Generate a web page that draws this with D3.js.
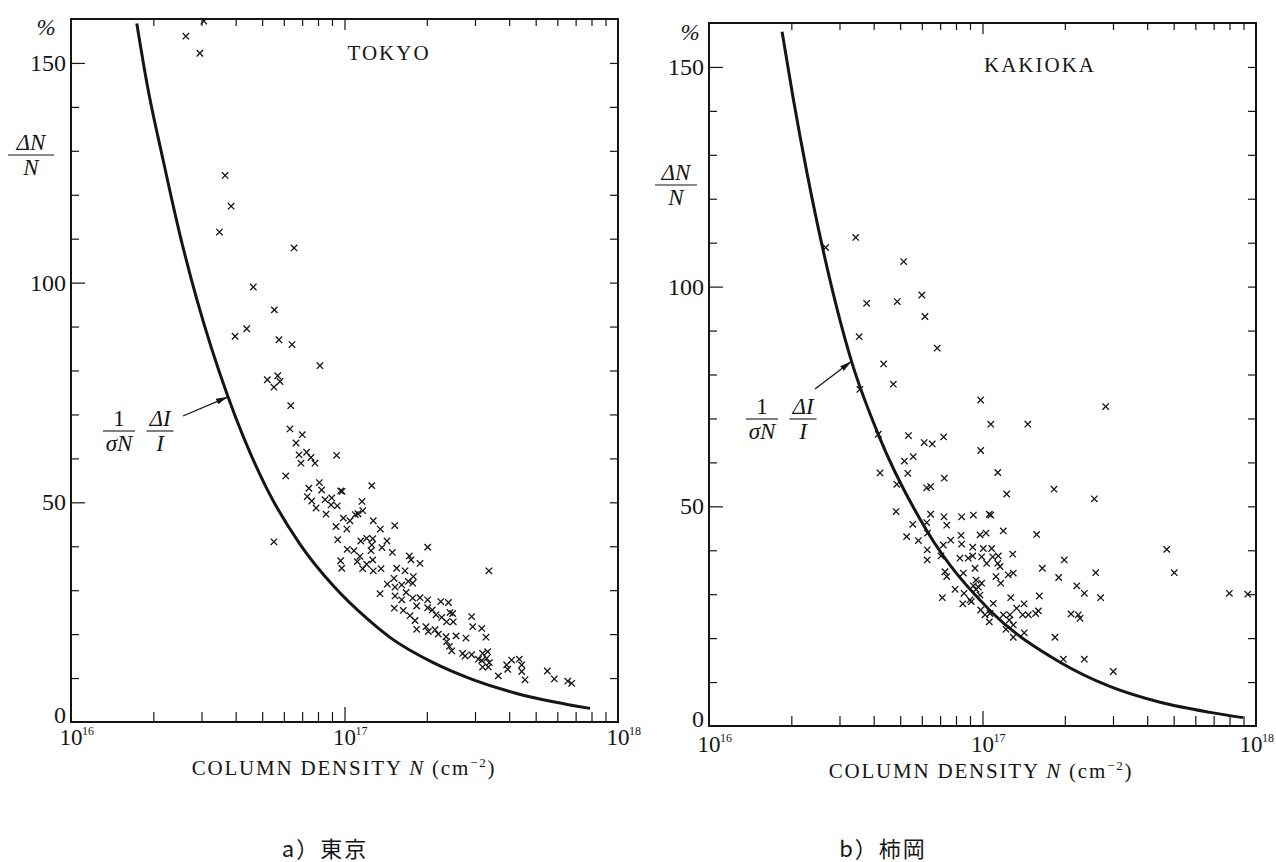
<!DOCTYPE html>
<html>
<head>
<meta charset="utf-8">
<script src="https://cdn.jsdelivr.net/npm/d3@7"></script>
<style>
body { margin: 0; background: #fff; }
</style>
</head>
<body>
<div id="chart"></div>
<script>
// scatter points: [column density N (cm^-2), dN/N (%)]
var tokyoPoints = [
  [2.63e16,156.1],[2.96e16,152.2],[3.06e16,159.5],[3.66e16,124.4],[3.85e16,117.4],[3.49e16,111.5],
  [6.54e16,107.9],[4.64e16,99.0],[5.54e16,93.8],[3.98e16,87.8],[4.39e16,89.5],[5.76e16,87.0],
  [6.43e16,85.9],[8.13e16,81.1],[5.22e16,77.9],[5.52e16,76.2],[5.70e16,78.8],[5.81e16,77.5],
  [6.36e16,72.0],[6.32e16,66.7],[7.01e16,65.4],[6.65e16,63.5],[6.82e16,60.8],[7.27e16,61.4],
  [7.54e16,60.2],[7.80e16,58.9],[6.93e16,58.9],[6.10e16,56.0],[7.41e16,53.2],[7.31e16,51.3],
  [7.59e16,50.3],[7.87e16,48.7],[8.09e16,54.5],[8.25e16,52.8],[8.49e16,50.6],[8.56e16,47.3],
  [5.52e16,41.0],[9.36e16,60.7],[9.68e16,52.6],[9.80e16,52.5],[8.98e16,51.0],[8.93e16,49.4],
  [9.41e16,49.2],[9.31e16,44.5],[9.44e16,41.5],[1.02e17,43.9],[9.90e16,46.4],[1.047e17,45.8],
  [1.095e17,47.2],[1.12e17,47.4],[1.159e17,50.2],[1.166e17,48.1],[1.258e17,53.8],[1.274e17,45.8],
  [1.352e17,43.9],[1.526e17,44.7],[1.023e17,39.3],[1.083e17,39.0],[9.68e16,36.7],[9.77e16,35.0],
  [1.147e17,41.2],[1.205e17,41.8],[1.268e17,41.7],[1.258e17,40.3],[1.25e17,39.0],[1.139e17,37.7],
  [1.114e17,36.5],[1.205e17,35.9],[1.268e17,36.9],[1.274e17,34.4],[1.165e17,34.9],[1.360e17,34.9],
  [1.371e17,39.7],[1.430e17,41.2],[1.496e17,38.6],[1.726e17,37.8],[1.750e17,36.9],[1.888e17,36.1],
  [2.014e17,39.8],[1.552e17,35.0],[1.664e17,34.4],[1.785e17,33.1],[1.517e17,32.7],[1.349e17,29.2],
  [1.434e17,31.4],[1.530e17,30.7],[1.619e17,31.2],[1.711e17,32.0],[1.776e17,31.6],[1.530e17,28.7],
  [1.619e17,27.8],[1.679e17,29.5],[1.776e17,28.2],[1.888e17,28.3],[1.836e17,26.4],[2.014e17,27.8],
  [2.014e17,26.0],[2.094e17,25.5],[2.249e17,27.4],[2.399e17,27.2],[1.521e17,25.9],[1.641e17,25.4],
  [1.736e17,24.2],[1.811e17,23.1],[1.836e17,21.1],[2.161e17,24.4],[2.266e17,23.8],[2.363e17,22.8],
  [2.499e17,22.8],[2.43e17,24.9],[2.486e17,24.7],[1.986e17,21.7],[2.026e17,20.6],[2.143e17,21.0],
  [2.203e17,20.0],[2.350e17,19.4],[2.558e17,19.6],[2.780e17,19.1],[2.363e17,18.3],[2.417e17,17.2],
  [2.466e17,16.2],[2.704e17,15.6],[2.758e17,15.0],[2.917e17,24.0],[2.943e17,21.7],[3.175e17,21.3],
  [3.291e17,19.3],[3.175e17,14.0],[2.917e17,15.3],[3.086e17,14.3],[3.199e17,15.6],[3.338e17,16.0],
  [3.31e17,14.5],[3.383e17,13.5],[3.355e17,12.5],[3.199e17,12.5],[3.373e17,34.4],[3.651e17,10.5],
  [3.917e17,13.0],[3.951e17,12.0],[4.083e17,14.1],[4.355e17,14.3],[4.446e17,13.0],[4.446e17,11.5],
  [4.571e17,9.6],[5.515e17,11.6],[5.85e17,9.8],[6.55e17,9.3],[6.77e17,8.8]
];

var kakiokaPoints = [
  [2.67e16,108.9],[3.44e16,111.2],[5.15e16,105.7],[6.00e16,98.1],[3.77e16,96.2],[4.88e16,96.6],
  [6.16e16,93.2],[3.54e16,88.6],[6.83e16,86.0],[4.35e16,82.4],[4.72e16,77.8],[3.56e16,76.6],
  [9.85e16,74.2],[4.16e16,66.4],[5.36e16,66.1],[6.12e16,64.5],[6.55e16,64.2],[7.21e16,65.8],
  [9.85e16,62.7],[5.18e16,60.3],[5.58e16,61.3],[4.22e16,57.6],[5.33e16,57.5],[6.25e16,54.2],
  [6.46e16,54.5],[7.25e16,56.4],[4.86e16,55.0],[4.83e16,48.8],[5.56e16,45.9],[6.46e16,48.2],
  [7.23e16,47.6],[7.40e16,45.7],[8.39e16,47.6],[9.26e16,48.0],[1.059e17,48.2],[6.25e16,46.3],
  [6.30e16,43.9],[5.28e16,43.1],[5.83e16,42.2],[6.28e16,40.1],[6.28e16,37.8],[7.19e16,41.2],
  [7.65e16,42.3],[8.35e16,43.4],[8.39e16,41.4],[9.21e16,40.7],[9.79e16,43.5],[1.007e17,40.4],
  [1.03e17,43.9],[7.05e16,38.7],[8.27e16,38.2],[8.87e16,38.2],[9.21e16,38.7],[9.93e16,38.5],
  [1.036e17,37.0],[7.29e16,35.1],[7.40e16,34.0],[8.51e16,34.8],[9.39e16,35.9],[9.47e16,33.2],
  [7.94e16,31.1],[8.56e16,30.2],[9.00e16,28.7],[9.47e16,31.1],[9.79e16,29.8],[7.13e16,29.2],
  [8.47e16,27.8],[9.1e16,28.3],[9.85e16,26.4],[1.021e17,25.3],[9.26e16,31.9],[9.66e16,31.6],
  [9.93e16,32.5],[1.072e17,68.7],[1.464e17,68.7],[1.137e17,57.7],[1.226e17,52.8],[2.82e17,72.7],
  [1.826e17,53.9],[2.564e17,51.7],[1.072e17,48.0],[1.191e17,44.4],[1.578e17,43.6],[1.080e17,40.4],
  [1.142e17,38.7],[1.09e17,38.5],[1.290e17,39.1],[1.137e17,37.0],[1.159e17,36.3],[1.120e17,34.0],
  [1.166e17,32.5],[1.242e17,34.4],[1.296e17,34.8],[1.655e17,35.9],[1.991e17,37.8],[1.899e17,33.8],
  [2.594e17,34.9],[2.211e17,31.9],[2.357e17,30.2],[2.704e17,29.2],[4.716e17,40.2],[5.025e17,34.9],
  [7.99e17,30.2],[9.33e17,30.0],[1.614e17,29.6],[1.268e17,29.2],[1.095e17,27.9],[1.065e17,25.6],
  [1.059e17,23.7],[1.191e17,25.3],[1.260e17,25.3],[1.402e17,25.3],[1.471e17,25.3],[1.564e17,25.6],
  [1.600e17,26.2],[1.333e17,26.8],[1.418e17,27.8],[1.253e17,24.1],[1.296e17,23.0],[1.219e17,22.0],
  [1.296e17,20.2],[1.421e17,21.2],[2.107e17,25.5],[2.240e17,25.3],[2.272e17,24.5],[1.841e17,20.2],
  [1.975e17,15.2],[2.357e17,15.2],[3.008e17,12.4]
];

// solid curve (1/sigmaN)(dI/I)
var tokyoCurve = [
  [1.74e16,159],[1.90e16,145],[2.17e16,128],[2.50e16,111],[2.89e16,96],[3.75e16,74],
  [5.21e16,53],[6.87e16,40.5],[9.1e16,31],[1.21e17,23.5],[1.47e17,19.2],[2.11e17,13.5],
  [2.96e17,9.6],[4.26e17,6.5],[5.8e17,4.6],[7.9e17,3.1]
];
var kakiokaCurve = [
  [1.85e16,158],[2.03e16,143],[2.28e16,126],[2.62e16,108],[3.32e16,83],[4.15e16,66.5],
  [6.25e16,44.5],[1.065e17,26.3],[1.92e17,14.5],[2.92e17,9],[4.46e17,5.4],[6.8e17,3.1],
  [8.96e17,1.9]
];

var yLabelTicks = [0, 50, 100, 150];
var yMajorTicks = [50, 100, 150];
var yMinorTicks = [10, 20, 30, 40, 60, 70, 80, 90, 110, 120, 130, 140];
var yRightTicks = [10, 20, 30, 40, 50, 60, 70, 80, 90, 100, 110, 120, 130, 140, 150];
var xDecades = [16, 17, 18];

var ink = "#151515";
var serif = "'Liberation Serif', 'DejaVu Serif', serif";

var svg = d3.select("#chart").append("svg")
    .attr("width", 1276)
    .attr("height", 862)
    .style("background", "#fff");

svg.append("defs").append("marker")
    .attr("id", "arrowhead")
    .attr("viewBox", "0 0 12 6")
    .attr("refX", 12).attr("refY", 3)
    .attr("markerUnits", "userSpaceOnUse")
    .attr("markerWidth", 12).attr("markerHeight", 6)
    .attr("orient", "auto")
  .append("path")
    .attr("d", "M0,0L12,3L0,6Z")
    .attr("fill", ink);

var panels = [
  {left: 71, right: 618, top: 19, bottom: 722,
   points: tokyoPoints, curve: tokyoCurve,
   title: "TOKYO", titleX: 389, titleY: 60,
   pctX: 46, pctY: 35, ylabX: 31, ylabBar: 155, ylabW: 46,
   arrowFrom: [183, 416], arrowTo: [3.75e16, 74],
   fracY: 431, frac1X: 119, frac2X: 160,
   xlabDy: 23, xtitleX: 344, xtitleY: 775,
   caption: "a", place: "東京", captionX: 325},
  {left: 709, right: 1256, top: 23, bottom: 726,
   points: kakiokaPoints, curve: kakiokaCurve,
   title: "KAKIOKA", titleX: 1040, titleY: 72,
   pctX: 690, pctY: 40, ylabX: 676, ylabBar: 185, ylabW: 42,
   arrowFrom: [815, 389], arrowTo: [3.32e16, 83],
   fracY: 419, frac1X: 762, frac2X: 803,
   xlabDy: 26, xtitleX: 981, xtitleY: 778,
   caption: "b", place: "柿岡", captionX: 883}
];

function styleTicks(sel) {
  sel.select(".domain").remove();
  sel.selectAll("text").remove();
  sel.selectAll("line").attr("stroke", ink).attr("stroke-width", 1.2);
}

function fraction(g, cx, barY, w, num, den, size) {
  g.append("line")
      .attr("x1", cx - w / 2).attr("x2", cx + w / 2)
      .attr("y1", barY).attr("y2", barY)
      .attr("stroke", ink).attr("stroke-width", 1.1);
  var t1 = g.append("text").attr("x", cx).attr("y", barY - 5)
      .attr("text-anchor", "middle").attr("font-size", size);
  num(t1);
  var t2 = g.append("text").attr("x", cx).attr("y", barY + 20)
      .attr("text-anchor", "middle").attr("font-size", size);
  den(t2);
}

panels.forEach(function(p) {
  var x = d3.scaleLog().domain([1e16, 1e18]).range([p.left, p.right]);
  var y = d3.scaleLinear().domain([0, 160]).range([p.bottom, p.top]);
  var g = svg.append("g").attr("font-family", serif).attr("fill", ink);

  var isMajor = function(d) { return Math.abs(Math.log10(d) - 17) < 1e-6; };
  var xInner = x.ticks().filter(function(d) { return d > 1.01e16 && d < 0.99e18; });
  var xMinor = xInner.filter(function(d) { return !isMajor(d); });
  var xMajor = xInner.filter(isMajor);

  // bottom ticks pointing up
  g.append("g").attr("transform", "translate(0," + p.bottom + ")")
      .call(d3.axisTop(x).tickValues(xMinor).tickSize(10).tickFormat("")).call(styleTicks);
  g.append("g").attr("transform", "translate(0," + p.bottom + ")")
      .call(d3.axisTop(x).tickValues(xMajor).tickSize(15).tickFormat("")).call(styleTicks);
  // top ticks pointing down
  g.append("g").attr("transform", "translate(0," + p.top + ")")
      .call(d3.axisBottom(x).tickValues(xMinor).tickSize(7).tickFormat("")).call(styleTicks);
  g.append("g").attr("transform", "translate(0," + p.top + ")")
      .call(d3.axisBottom(x).tickValues(xMajor).tickSize(11).tickFormat("")).call(styleTicks);
  // left ticks pointing right
  g.append("g").attr("transform", "translate(" + p.left + ",0)")
      .call(d3.axisRight(y).tickValues(yMinorTicks).tickSize(8).tickFormat("")).call(styleTicks);
  g.append("g").attr("transform", "translate(" + p.left + ",0)")
      .call(d3.axisRight(y).tickValues(yMajorTicks).tickSize(14).tickFormat("")).call(styleTicks);
  // right ticks pointing left
  g.append("g").attr("transform", "translate(" + p.right + ",0)")
      .call(d3.axisLeft(y).tickValues(yRightTicks).tickSize(8).tickFormat("")).call(styleTicks);

  // frame
  g.append("rect")
      .attr("x", p.left).attr("y", p.top)
      .attr("width", p.right - p.left).attr("height", p.bottom - p.top)
      .attr("fill", "none").attr("stroke", ink).attr("stroke-width", 2);

  // y tick labels
  g.selectAll(".ylab").data(yLabelTicks).enter().append("text")
      .attr("class", "ylab")
      .attr("x", p.left - 5)
      .attr("y", function(d) { return d === 0 ? y(d) + 1 : y(d) + 8; })
      .attr("text-anchor", "end")
      .attr("font-size", 24)
      .text(function(d) { return d; });

  // x tick labels 10^n, kept inside the page at the right edge
  var xl = g.selectAll(".xlab").data(xDecades).enter().append("g")
      .attr("class", "xlab")
      .attr("transform", function(d) {
        var cx = x(Math.pow(10, d));
        return "translate(" + Math.min(cx, 1276 - 25) + ",0)";
      });
  xl.append("text")
      .attr("x", 0)
      .attr("y", p.bottom + p.xlabDy)
      .attr("text-anchor", "middle")
      .attr("font-size", 23)
      .text("10");
  xl.append("text")
      .attr("x", 11)
      .attr("y", p.bottom + p.xlabDy - 10)
      .attr("font-size", 12)
      .text(function(d) { return d; });

  // curve
  var line = d3.line()
      .x(function(d) { return x(d[0]); })
      .y(function(d) { return y(d[1]); })
      .curve(d3.curveMonotoneX);
  g.append("path").datum(p.curve)
      .attr("d", line)
      .attr("fill", "none")
      .attr("stroke", ink)
      .attr("stroke-width", 3);

  // data crosses
  g.selectAll(".pt").data(p.points).enter().append("path")
      .attr("class", "pt")
      .attr("transform", function(d) { return "translate(" + x(d[0]) + "," + y(d[1]) + ")"; })
      .attr("d", "M-3.2,-3.2L3.2,3.2M-3.2,3.2L3.2,-3.2")
      .attr("stroke", ink)
      .attr("stroke-width", 1.3)
      .attr("fill", "none");

  // station name
  g.append("text")
      .attr("x", p.titleX).attr("y", p.titleY)
      .attr("text-anchor", "middle")
      .attr("font-size", 21)
      .attr("letter-spacing", 2)
      .text(p.title);

  // y axis label: % and dN/N
  g.append("text").attr("x", p.pctX).attr("y", p.pctY)
      .attr("text-anchor", "middle").attr("font-size", 23).attr("font-style", "italic")
      .text("%");
  fraction(g, p.ylabX, p.ylabBar, p.ylabW,
    function(t) { t.attr("font-style", "italic").text("\u0394N"); },
    function(t) { t.attr("font-style", "italic").text("N"); }, 23);

  // curve annotation
  fraction(g, p.frac1X, p.fracY, 32,
    function(t) { t.text("1"); },
    function(t) { t.attr("font-style", "italic").text("\u03C3N"); }, 23);
  fraction(g, p.frac2X, p.fracY, 27,
    function(t) { t.attr("font-style", "italic").text("\u0394I"); },
    function(t) { t.attr("font-style", "italic").text("I"); }, 23);
  g.append("line")
      .attr("x1", p.arrowFrom[0]).attr("y1", p.arrowFrom[1])
      .attr("x2", x(p.arrowTo[0])).attr("y2", y(p.arrowTo[1]))
      .attr("stroke", ink).attr("stroke-width", 1.3)
      .attr("marker-end", "url(#arrowhead)");

  // x axis title
  var xt = g.append("text")
      .attr("x", p.xtitleX).attr("y", p.xtitleY)
      .attr("text-anchor", "middle")
      .attr("font-size", 21)
      .attr("letter-spacing", 1.8);
  xt.append("tspan").text("COLUMN DENSITY ");
  xt.append("tspan").attr("font-style", "italic").text("N");
  xt.append("tspan").text(" (cm");
  xt.append("tspan").attr("dy", -8).attr("font-size", 13).text("\u22122");
  xt.append("tspan").attr("dy", 8).text(")");

  // panel caption
  svg.append("text")
      .attr("x", p.captionX).attr("y", 857)
      .attr("text-anchor", "middle")
      .attr("font-family", "'Noto Sans CJK JP', 'Noto Sans', sans-serif")
      .attr("font-size", 22)
      .attr("letter-spacing", 2)
      .attr("fill", ink)
      .text(p.caption + "\uFF09" + p.place);
});
</script>
</body>
</html>
